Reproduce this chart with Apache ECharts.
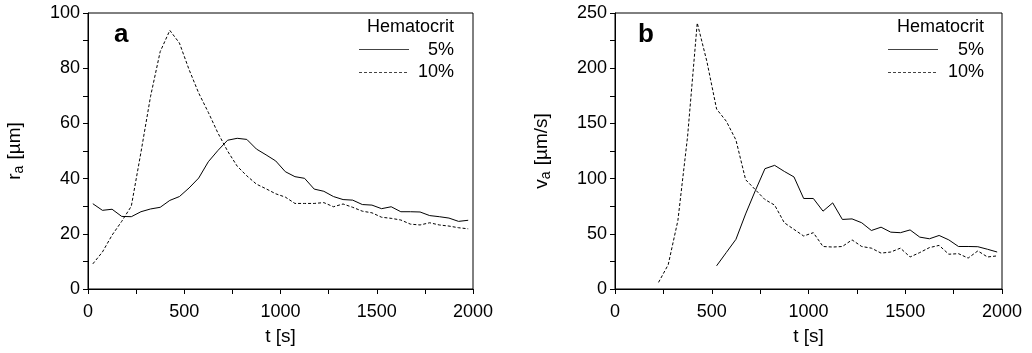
<!DOCTYPE html>
<html>
<head>
<meta charset="utf-8">
<script src="https://cdn.jsdelivr.net/npm/echarts@6/dist/echarts.min.js"></script>
<style>
  html, body { margin: 0; padding: 0; background: #fff; }
  #chart { width: 1032px; height: 353px; }
</style>
</head>
<body>
<div id="chart"></div>
<script>
// time points [s]
const timeA = [25, 75, 125, 175, 225, 275, 325, 375, 425, 475, 525, 575, 625, 675, 725, 775, 825, 875, 925, 975,
    1025, 1075, 1125, 1175, 1225, 1275, 1325, 1375, 1425, 1475, 1525, 1575, 1625, 1675, 1725, 1775, 1825, 1875, 1925, 1975];
const timeB5 = [525, 575, 625, 675, 725, 775, 825, 875, 925, 975, 1025, 1075, 1125, 1175, 1225, 1275, 1325, 1375, 1425, 1475,
    1525, 1575, 1625, 1675, 1725, 1775, 1825, 1875, 1925, 1975];
const timeB10 = [225, 275, 325, 375, 425, 475, 525, 575, 625, 675, 725, 775, 825, 875, 925, 975, 1025, 1075, 1125, 1175,
    1225, 1275, 1325, 1375, 1425, 1475, 1525, 1575, 1625, 1675, 1725, 1775, 1825, 1875, 1925, 1975];

// panel a: r_a [µm]
const radius5 = [30.9, 28.5, 28.9, 26.3, 26.2, 28.0, 29.0, 29.6, 32.1, 33.5, 36.6, 40.2, 46.1, 50.2, 53.9, 54.6, 54.2, 50.7, 48.6, 46.4,
    42.5, 40.7, 40.1, 36.2, 35.4, 33.5, 32.4, 32.2, 30.6, 30.4, 29.1, 29.8, 28.0, 28.0, 27.9, 26.6, 26.2, 25.7, 24.5, 24.9];
const radius10 = [9.1, 13.4, 19.5, 24.5, 30.0, 49.5, 69.8, 86.0, 93.7, 89.1, 79.5, 71.0, 64.0, 56.5, 50.0, 44.5, 41.0, 38.0, 36.3, 34.5,
    33.3, 31.0, 31.0, 31.0, 31.3, 29.8, 30.8, 29.6, 28.2, 27.6, 26.0, 25.6, 25.0, 23.5, 23.2, 24.0, 23.2, 22.8, 22.2, 21.8];

// panel b: v_a [µm/s]
const velocity5 = [21, 33, 45, 68, 89, 109, 112, 106.5, 101.5, 82, 82, 70.5, 78, 63, 63.5, 60, 53, 56, 51.5, 51,
    53.5, 47, 45.5, 48.5, 44.5, 38.5, 38.5, 38.3, 36, 33.5];
const velocity10 = [6, 22, 62, 138, 241, 206, 163, 152, 135, 99, 90, 81, 76, 60, 54, 48, 51, 38.5, 38, 38.5,
    44.5, 38.5, 37, 32.5, 33.5, 37, 29, 33, 37.5, 39.5, 31.5, 32, 28, 34.5, 29, 30];

const legendTitle = 'Hematocrit';
const legendNames = ['5%', '10%'];

const FONT = 'Liberation Sans, Arial, sans-serif';
const dashed = [3, 2];

function pairs(xs, ys) {
    return xs.map((x, i) => [x, ys[i]]);
}

function xAxisFor(gridIndex) {
    return {
        gridIndex: gridIndex,
        type: 'value',
        min: 0,
        max: 2000,
        interval: 500,
        name: 't [s]',
        nameLocation: 'middle',
        nameGap: 38,
        nameTextStyle: { color: '#000', fontSize: 19, fontFamily: FONT },
        axisLine: { onZero: false, lineStyle: { color: '#000', width: 1 } },
        axisTick: { show: true, inside: false, length: 5, lineStyle: { color: '#000' } },
        minorTick: { show: true, splitNumber: 2, length: 5, lineStyle: { color: '#000' } },
        axisLabel: { color: '#000', fontSize: 18, fontFamily: FONT, margin: 14, formatter: v => String(v) },
        splitLine: { show: false }
    };
}

function yAxisFor(gridIndex, max, interval, label) {
    return {
        gridIndex: gridIndex,
        type: 'value',
        min: 0,
        max: max,
        interval: interval,
        name: label,
        nameLocation: 'middle',
        nameRotate: 90,
        nameGap: 62,
        nameTextStyle: {
            color: '#000',
            rich: {
                m: { fontSize: 19, fontFamily: FONT, color: '#000', lineHeight: 23 },
                s: { fontSize: 14, fontFamily: FONT, color: '#000', lineHeight: 14, verticalAlign: 'bottom', padding: [0, 1, 0, 0] }
            }
        },
        axisLine: { onZero: false, lineStyle: { color: '#000', width: 1 } },
        axisTick: { show: true, inside: false, length: 5, lineStyle: { color: '#000' } },
        minorTick: { show: true, splitNumber: 2, length: 5, lineStyle: { color: '#000' } },
        axisLabel: { color: '#000', fontSize: 18, fontFamily: FONT, margin: 8, formatter: v => String(v) },
        splitLine: { show: false }
    };
}

function lineSeries(name, index, data, dash) {
    return {
        name: name,
        type: 'line',
        xAxisIndex: index,
        yAxisIndex: index,
        data: data,
        showSymbol: false,
        symbol: 'none',
        silent: true,
        lineStyle: { color: '#000', width: 1, type: dash ? dashed : 'solid' },
        z: 3
    };
}

// legend + panel letter drawn as graphics (right aligned text like the original)
function panelGraphics(letter, letterX, legendRight, lineLeft) {
    return [
        { type: 'text', left: letterX, top: 22, style: { text: letter, font: 'bold 26px ' + FONT, fill: '#000' } },
        { type: 'text', right: 1032 - legendRight, top: 18, style: { text: legendTitle, font: '18px ' + FONT, fill: '#000' } },
        { type: 'text', right: 1032 - legendRight, top: 41, style: { text: legendNames[0], font: '18px ' + FONT, fill: '#000' } },
        { type: 'text', right: 1032 - legendRight, top: 63, style: { text: legendNames[1], font: '18px ' + FONT, fill: '#000' } },
        { type: 'line', shape: { x1: lineLeft, y1: 49.5, x2: lineLeft + 50, y2: 49.5 }, style: { stroke: '#444', lineWidth: 1 } },
        { type: 'line', shape: { x1: lineLeft, y1: 72.5, x2: lineLeft + 50, y2: 72.5 }, style: { stroke: '#444', lineWidth: 1, lineDash: dashed } }
    ];
}

const option = {
    animation: false,
    backgroundColor: '#fff',
    grid: [
        { left: 88, right: 559, top: 13, bottom: 64, show: true, borderColor: '#000', borderWidth: 1, backgroundColor: 'transparent' },
        { left: 615, right: 30, top: 13, bottom: 64, show: true, borderColor: '#000', borderWidth: 1, backgroundColor: 'transparent' }
    ],
    xAxis: [xAxisFor(0), xAxisFor(1)],
    yAxis: [
        yAxisFor(0, 100, 20, '{m|r}{s|a}{m| [µm]}'),
        yAxisFor(1, 250, 50, '{m|v}{s|a}{m| [µm/s]}')
    ],
    series: [
        lineSeries(legendNames[0], 0, pairs(timeA, radius5), false),
        lineSeries(legendNames[1], 0, pairs(timeA, radius10), true),
        lineSeries(legendNames[0], 1, pairs(timeB5, velocity5), false),
        lineSeries(legendNames[1], 1, pairs(timeB10, velocity10), true)
    ],
    graphic: panelGraphics('a', 114, 454, 359).concat(panelGraphics('b', 638, 984, 888))
};

let chart = echarts.init(document.getElementById('chart'));
chart.setOption(option);
</script>
</body>
</html>
